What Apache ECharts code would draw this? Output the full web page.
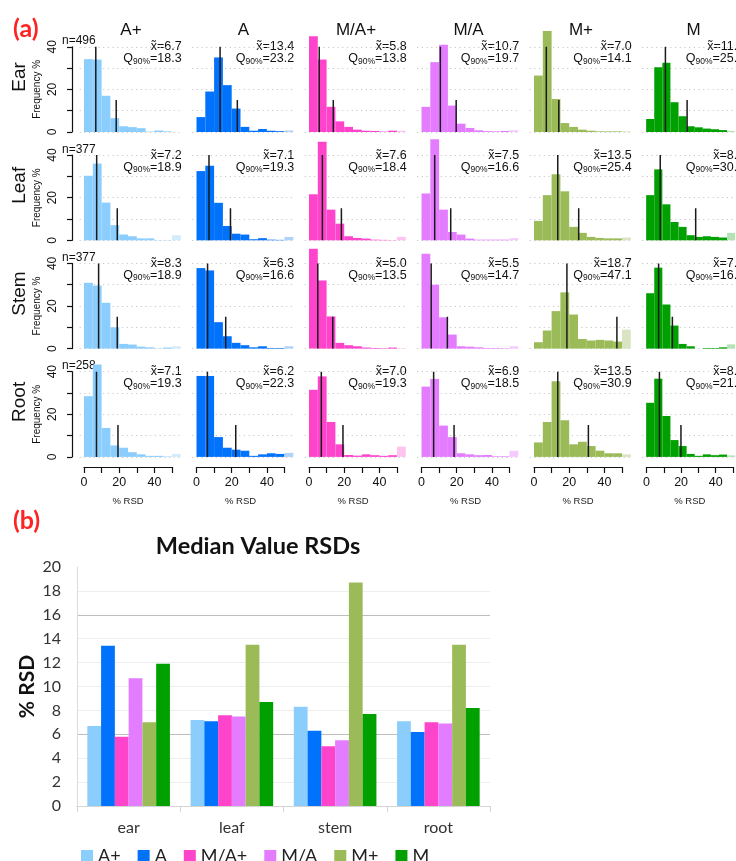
<!DOCTYPE html>
<html>
<head>
<meta charset="utf-8">
<script src="https://cdn.jsdelivr.net/npm/echarts@6/dist/echarts.min.js"></script>
<style>
html, body { margin: 0; padding: 0; background: #fff; }
#main { width: 736px; height: 861px; }
</style>
</head>
<body>
<div id="main"></div>
<script>
// ---- data ----
var groups = ['A+', 'A', 'M/A+', 'M/A', 'M+', 'M'];
var tissues = ['Ear', 'Leaf', 'Stem', 'Root'];
var tissueCats = ['ear', 'leaf', 'stem', 'root'];
var sampleN = [496, 377, 377, 258];
var binEdges = [0, 5, 10, 15, 20, 25, 30, 35, 40, 45, 50, 55]; // last bin = over 50
var yTicksHist = [0, 20, 40];
var xTicksHist = [0, 20, 40];

// frequency % per bin, one list per group (A+, A, M/A+, M/A, M+, M)
var histEar = [
  [34.2, 34, 17, 6.5, 2.7, 2.3, 1.8, 0.2, 0.7, 0.3, 0],
  [7, 19, 35, 22, 11, 2.4, 0.6, 1.4, 0.6, 0.4, 0.7],
  [45, 34, 11.8, 5, 2.4, 1.1, 0.6, 0.5, 0.2, 0.6, 0.6],
  [11.8, 32.8, 41, 12.4, 3.9, 1.9, 0.8, 0.4, 0.3, 0.5, 0.8],
  [26.5, 47.4, 15.5, 4.2, 2.4, 1.1, 0.6, 0.3, 0.3, 0.3, 0.3],
  [6.1, 30.4, 32.5, 14, 7.4, 2.7, 2.2, 1.6, 1.3, 0.9, 0.5]
];
var histLeaf = [
  [30.3, 36, 17.7, 7.1, 2.7, 1.9, 0.9, 0.9, 0.1, 0.1, 2.4],
  [32.5, 35, 17.6, 6.7, 3.1, 2.7, 0.5, 1.0, 0.3, 0.2, 1.6],
  [21.6, 46.3, 14.4, 7.8, 1.9, 1.1, 0.8, 0.3, 0.2, 0.1, 1.6],
  [22, 47.4, 14.4, 3.9, 2.7, 0.8, 0.3, 0.3, 0.3, 0.3, 1.0],
  [9.1, 21.2, 31, 23, 6.3, 3.5, 1.6, 1.1, 0.9, 0.9, 1.3],
  [21.2, 33.3, 16.9, 8.6, 6.3, 2.4, 1.6, 1.9, 1.6, 1.3, 3.5]
];
var histStem = [
  [30.9, 29.6, 21.5, 10, 2.2, 1.9, 0.9, 0.6, 0.1, 0.5, 1.1],
  [37.8, 36.7, 12.4, 5.8, 2.7, 1.6, 0.6, 1.1, 0.3, 0.3, 1.1],
  [46.9, 32, 15.1, 2.7, 1.6, 1.1, 0.5, 0.3, 0.2, 0.5, 0.2],
  [44.5, 30, 14.7, 6.6, 1.1, 0.9, 0.6, 0.3, 0.3, 0.2, 1.1],
  [3, 8.5, 17.6, 26.4, 16, 4.5, 3.8, 4.1, 3.8, 3.3, 8.9],
  [26, 38, 20.7, 10.8, 2.2, 1.1, 0, 0.3, 0.3, 0.6, 2]
];
var histRoot = [
  [28.5, 43.4, 13.6, 5.4, 4.3, 2.2, 1.2, 0.5, 0.5, 0.2, 1.4],
  [38, 38, 9.3, 4.3, 3.4, 2.9, 0.5, 1.2, 1.7, 1.4, 1.9],
  [31.5, 37.8, 16.4, 5.9, 0.9, 0.6, 1.2, 0.8, 0.5, 0.8, 4.8],
  [33, 36.6, 14.7, 9.3, 1.7, 1.2, 0.8, 0.9, 0.3, 0.3, 2.9],
  [6.8, 16.4, 35.5, 17.2, 5.9, 7.1, 5.1, 2.9, 1.7, 1.7, 1.2],
  [25.4, 36.7, 19.2, 7.9, 5.1, 1.4, 0.5, 1.2, 0.8, 1.1, 0.7]
];

// median RSD (also the values of panel b) and 90% quantile, per group
var medEar = [6.7, 13.4, 5.8, 10.7, 7.0, 11.9];
var medLeaf = [7.2, 7.1, 7.6, 7.5, 13.5, 8.7];
var medStem = [8.3, 6.3, 5.0, 5.5, 18.7, 7.7];
var medRoot = [7.1, 6.2, 7.0, 6.9, 13.5, 8.2];
var q90Ear = [18.3, 23.2, 13.8, 19.7, 14.1, 25.3];
var q90Leaf = [18.9, 19.3, 18.4, 16.6, 25.4, 30.6];
var q90Stem = [18.9, 16.6, 13.5, 14.7, 47.1, 16.2];
var q90Root = [19.3, 22.3, 19.3, 18.5, 30.9, 21.5];

var hists = [histEar, histLeaf, histStem, histRoot];
var meds = [medEar, medLeaf, medStem, medRoot];
var q90s = [q90Ear, q90Leaf, q90Stem, q90Root];

// ---- style / layout ----
var colors = ['#8bcdfd', '#0072fb', '#ff44cc', '#e47cff', '#9bbb59', '#00a000'];
var lightColors = ['#d3ecfd', '#b0d2fb', '#ffc4ee', '#f5cbff', '#d9e5c2', '#b5e2b5'];
var FONT_A = '"Liberation Sans", Arial, sans-serif';
var FONT_B = 'Lato, "Open Sans", sans-serif';
var PX = 1.76, PY = 2.13;          // px per unit in the histograms
var COL0 = 84, COLSTEP = 112.5;    // x pixel of value 0 in first column
var ROW0 = 132, ROWSTEP = 108.3;   // y pixel of value 0 in first row

var grids = [], xAxes = [], yAxes = [], series = [], graphics = [];

function addGrid(g, xa, ya) {
  var idx = grids.length;
  g.containLabel = false;
  grids.push(g);
  xa.gridIndex = idx; ya.gridIndex = idx;
  xAxes.push(xa); yAxes.push(ya);
  return idx;
}

function hidden(min, max) {
  return { type: 'value', min: min, max: max, show: false };
}

function binRenderer(color, light) {
  return function (params, api) {
    var a = api.coord([api.value(0), api.value(2)]);
    var b = api.coord([api.value(1), 0]);
    return {
      type: 'rect',
      shape: { x: a[0], y: a[1], width: b[0] - a[0], height: b[1] - a[1] },
      style: { fill: api.value(3) ? light : color }
    };
  };
}

function txt(x, y, text, size, opts) {
  opts = opts || {};
  graphics.push({
    type: 'text', x: x, y: y, rotation: opts.rot || 0, silent: true,
    style: {
      text: text, fill: opts.color || '#111',
      font: (opts.weight || 'normal') + ' ' + size + 'px ' + (opts.family || FONT_A),
      align: opts.align || 'center', verticalAlign: 'middle', rich: opts.rich
    }
  });
}

txt(13, 29, '(a)', 25, { align: 'left', weight: 'bold', color: '#ff2222', family: FONT_B });
txt(13, 521, '(b)', 25, { align: 'left', weight: 'bold', color: '#ff2222', family: FONT_B });

// ---- panel (a): histograms ----
groups.forEach(function (gname, i) {
  var x0 = COL0 + COLSTEP * i;
  txt(x0 + 47, 30, gname, 17);
});

tissues.forEach(function (tname, j) {
  var y0 = ROW0 + ROWSTEP * j;
  txt(20, y0 - 55, tname, 19, { rot: Math.PI / 2 });
  txt(62, y0 - 91, 'n=' + sampleN[j], 12, { align: 'left' });

  // left y axis, R style
  addGrid({ left: 72, top: y0 - 40 * PY, width: 8, height: 40 * PY },
    hidden(0, 1),
    {
      type: 'value', min: 0, max: 40, interval: 10, position: 'left',
      axisLine: { show: true, lineStyle: { color: '#111', width: 1.2 } },
      axisTick: { show: true, length: 5, lineStyle: { color: '#111', width: 1.2 } },
      axisLabel: {
        rotate: 90, align: 'center', verticalAlign: 'bottom', margin: 13,
        fontSize: 12, color: '#111', fontFamily: FONT_A,
        formatter: function (v) { return yTicksHist.indexOf(v) >= 0 ? String(v) : ''; }
      },
      splitLine: { show: false },
      name: 'Frequency %', nameLocation: 'middle', nameGap: 30,
      nameTextStyle: { fontSize: 10, color: '#111', fontFamily: FONT_A }
    });

  groups.forEach(function (gname, i) {
    var x0 = COL0 + COLSTEP * i;
    var freq = hists[j][i];
    var g = addGrid({ left: x0 - 2.5 * PX, top: y0 - 48 * PY, width: 58 * PX, height: 48 * PY },
      hidden(-2.5, 55.5),
      {
        type: 'value', min: 0, max: 48, interval: 10,
        axisLine: { show: false }, axisTick: { show: false }, axisLabel: { show: false },
        splitLine: { show: true, showMaxLine: false, lineStyle: { color: '#c8c8c8', width: 1.2, type: [1.2, 3.5] } }
      });
    var data = freq.map(function (v, k) {
      return [binEdges[k], binEdges[k + 1], v, k === freq.length - 1 ? 1 : 0];
    });
    series.push({
      type: 'custom', name: 'hist ' + tname + ' ' + gname, xAxisIndex: g, yAxisIndex: g,
      renderItem: binRenderer(colors[i], lightColors[i]), encode: { x: [0, 1], y: 2 },
      data: data, silent: true
    });
    var m = meds[j][i], q = q90s[j][i];
    [[m, 40], [q, 15]].forEach(function (ln) {
      series.push({
        type: 'line', name: 'stat ' + tname + ' ' + gname, xAxisIndex: g, yAxisIndex: g,
        data: [[ln[0], 0], [ln[0], ln[1]]], symbol: 'none', silent: true,
        lineStyle: { color: '#1a1a1a', width: 1.5 }
      });
    });
    var xr = x0 + 55.5 * PX;
    txt(xr, y0 - 85, 'x\u0303=' + m.toFixed(1), 12.5, { align: 'right' });
    txt(xr, y0 - 73, '{q|Q}{s|90%}{q|=' + q.toFixed(1) + '}', 12.5, {
      align: 'right',
      rich: {
        q: { fontSize: 12.5, fontFamily: FONT_A, fill: '#111', lineHeight: 14, verticalAlign: 'middle' },
        s: { fontSize: 8.5, fontFamily: FONT_A, fill: '#111', lineHeight: 14, verticalAlign: 'bottom', padding: [4, 0, 0, 0] }
      }
    });
  });
});

// bottom x axes, R style
groups.forEach(function (gname, i) {
  var x0 = COL0 + COLSTEP * i;
  addGrid({ left: x0, width: 50 * PX, top: 457, height: 10 },
    {
      type: 'value', min: 0, max: 50, interval: 10, position: 'bottom',
      axisLine: { show: true, onZero: false, lineStyle: { color: '#111', width: 1.2 } },
      axisTick: { show: true, length: 6, lineStyle: { color: '#111', width: 1.2 } },
      axisLabel: {
        margin: 9, fontSize: 12.5, color: '#111', fontFamily: FONT_A,
        formatter: function (v) { return xTicksHist.indexOf(v) >= 0 ? String(v) : ''; }
      },
      splitLine: { show: false },
      name: '% RSD', nameLocation: 'middle', nameGap: 29,
      nameTextStyle: { fontSize: 9.5, color: '#222', fontFamily: FONT_A }
    },
    hidden(0, 1));
});

// ---- panel (b): median value RSDs ----
var gb = addGrid({ left: 77, top: 567, width: 413, height: 239 },
  {
    type: 'category', data: tissueCats,
    axisLine: { show: true, lineStyle: { color: '#d4d4d4', width: 1 } },
    axisTick: { show: true, length: 6, lineStyle: { color: '#d4d4d4' } },
    axisLabel: { fontSize: 16, color: '#333', margin: 14, fontFamily: FONT_B }
  },
  {
    type: 'value', min: 0, max: 20, interval: 2,
    axisLine: { show: true, lineStyle: { color: '#dcdcdc' } },
    axisTick: { show: false },
    axisLabel: { fontSize: 16, color: '#333', margin: 16, fontFamily: FONT_B },
    splitLine: {
      show: true, showMaxLine: false,
      lineStyle: { width: 1.2, color: ['#d4d4d4', '#eeeeee', '#eeeeee', '#bdbdbd', '#eeeeee', '#eeeeee', '#eeeeee', '#eeeeee', '#bdbdbd', '#eeeeee', '#eeeeee'] }
    },
    name: '% RSD', nameLocation: 'middle', nameGap: 39, nameMoveOverlap: false,
    nameTextStyle: { fontSize: 21, fontWeight: 'bold', color: '#111', fontFamily: FONT_B }
  });

groups.forEach(function (gname, i) {
  series.push({
    type: 'bar', name: gname, xAxisIndex: gb, yAxisIndex: gb,
    data: meds.map(function (arr) { return arr[i]; }),
    itemStyle: { color: colors[i] },
    barGap: '0%', barCategoryGap: '20%'
  });
});

var chart = echarts.init(document.getElementById('main'));
chart.setOption({
  animation: false,
  backgroundColor: '#fff',
  title: {
    text: 'Median Value RSDs', left: 253, top: 529, textAlign: 'center',
    textStyle: { fontSize: 23.5, fontWeight: 'bold', color: '#111', fontFamily: FONT_B }
  },
  legend: {
    data: groups, left: 76, top: 842, itemWidth: 12, itemHeight: 12, itemGap: 17,
    icon: 'rect', textStyle: { fontSize: 18, color: '#222', fontFamily: FONT_B }
  },
  grid: grids,
  xAxis: xAxes,
  yAxis: yAxes,
  series: series,
  graphic: graphics
});
</script>
</body>
</html>
